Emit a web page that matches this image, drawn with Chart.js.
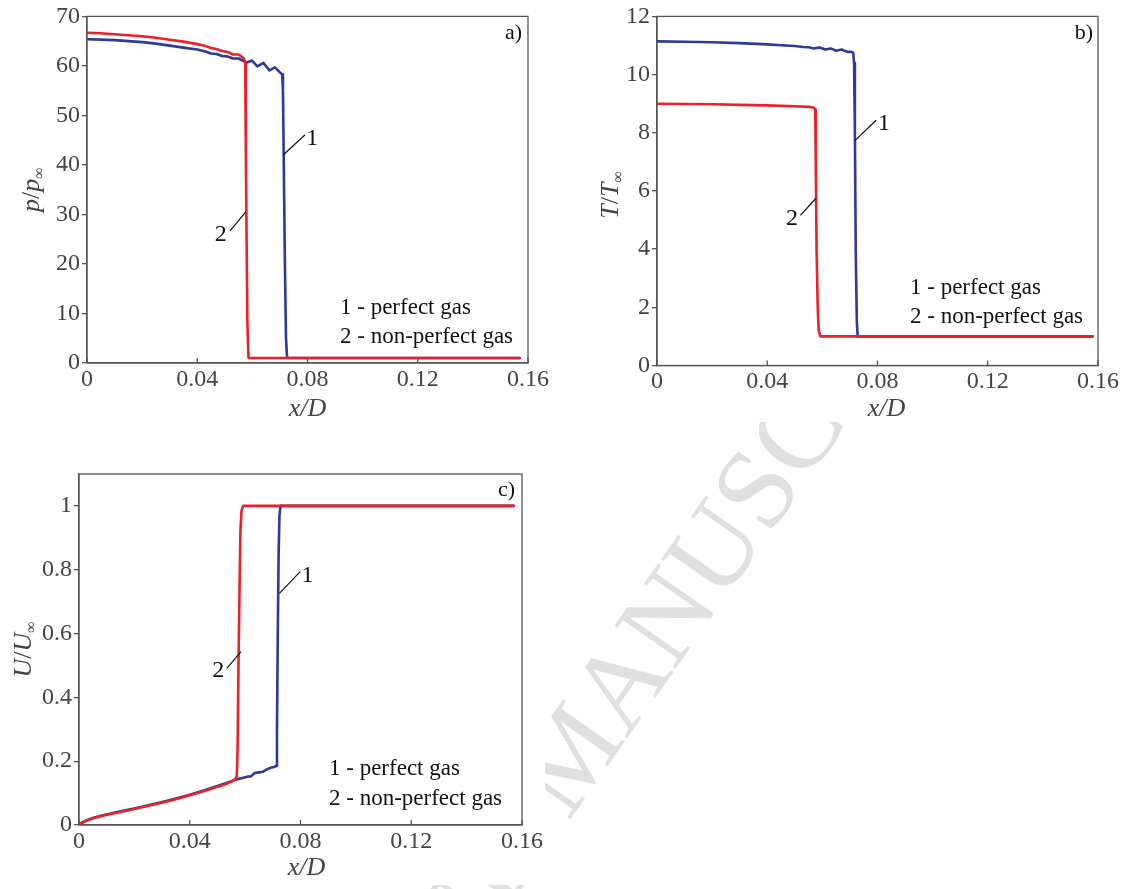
<!DOCTYPE html>
<html>
<head>
<meta charset="utf-8">
<script src="https://cdn.jsdelivr.net/npm/chart.js@4.4.0/dist/chart.umd.min.js"></script>
<style>
  html, body { margin: 0; padding: 0; background: #fff; }
  body { width: 1137px; height: 889px; position: relative; overflow: hidden; }
  canvas { position: absolute; background: #fff; }
  #marca {
    position: absolute; left: 571px; top: 752px;
    transform: translate(-50%, -50%) rotate(-55deg);
    white-space: nowrap; line-height: 1;
    font: 114px "Liberation Serif", serif; color: #e0e0e0;
  }
</style>
</head>
<body>
<div id="marca">ACCEPTED MANUSCRIPT</div>
<canvas id="chartA" width="560" height="425" style="left:0;top:0"></canvas>
<canvas id="chartB" width="577" height="422" style="left:560px;top:0"></canvas>
<canvas id="chartC" width="545" height="430" style="left:0;top:455px"></canvas>
<script>
// ejes
const xTicks = [0, 0.04, 0.08, 0.12, 0.16];
const xTickLabels = ['0', '0.04', '0.08', '0.12', '0.16'];
const pTicks = [0, 10, 20, 30, 40, 50, 60, 70];
const pTickLabels = ['0', '10', '20', '30', '40', '50', '60', '70'];
const tTicks = [0, 2, 4, 6, 8, 10, 12];
const tTickLabels = ['0', '2', '4', '6', '8', '10', '12'];
const uTicks = [0, 0.2, 0.4, 0.6, 0.8, 1];
const uTickLabels = ['0', '0.2', '0.4', '0.6', '0.8', '1'];
const seriesNames = ['1 - perfect gas', '2 - non-perfect gas'];

// a) presion, gas perfecto (1)
const pPerfectX = [0, 0.005, 0.01, 0.015, 0.02, 0.025, 0.03, 0.035, 0.04, 0.043, 0.045, 0.047, 0.049, 0.051, 0.053, 0.055, 0.057, 0.058, 0.0598, 0.0618, 0.064, 0.0662, 0.0682, 0.07, 0.0708, 0.0711, 0.0714, 0.0718, 0.0722, 0.0726, 0.075, 0.1, 0.13, 0.157];
const pPerfectY = [65.4, 65.3, 65.2, 65.0, 64.8, 64.5, 64.1, 63.7, 63.3, 62.9, 62.5, 62.4, 62.0, 61.9, 61.5, 61.5, 60.9, 60.7, 61.1, 59.9, 60.6, 59.1, 59.7, 58.7, 58.3, 55, 40, 20, 5, 1, 1, 1, 1, 1];
// a) presion, gas no perfecto (2)
const pRealX = [0, 0.005, 0.01, 0.015, 0.02, 0.025, 0.03, 0.035, 0.04, 0.043, 0.045, 0.047, 0.049, 0.051, 0.053, 0.055, 0.0568, 0.0574, 0.0576, 0.0579, 0.0582, 0.0586, 0.065, 0.1, 0.13, 0.157];
const pRealY = [66.7, 66.6, 66.4, 66.2, 66.0, 65.7, 65.3, 64.9, 64.4, 64.0, 63.6, 63.4, 63.0, 62.8, 62.3, 62.3, 61.6, 60.8, 45, 25, 8, 1, 1, 1, 1, 1];

// b) temperatura
const tPerfectX = [0, 0.01, 0.02, 0.03, 0.04, 0.045, 0.05, 0.053, 0.055, 0.057, 0.059, 0.061, 0.063, 0.065, 0.067, 0.069, 0.0705, 0.0712, 0.0715, 0.0718, 0.0721, 0.0725, 0.0728, 0.08, 0.12, 0.158];
const tPerfectY = [11.14, 11.13, 11.11, 11.08, 11.04, 11.01, 10.98, 10.95, 10.94, 10.9, 10.93, 10.86, 10.9, 10.82, 10.86, 10.78, 10.78, 10.75, 10.4, 8, 4, 1.5, 1, 1, 1, 1];
const tRealX = [0, 0.01, 0.02, 0.03, 0.04, 0.05, 0.055, 0.0568, 0.0574, 0.0576, 0.0579, 0.0583, 0.0587, 0.0593, 0.065, 0.1, 0.13, 0.158];
const tRealY = [9.0, 8.99, 8.98, 8.96, 8.94, 8.91, 8.89, 8.87, 8.8, 7.0, 4.0, 2.0, 1.2, 1.0, 1, 1, 1, 1];

// c) velocidad
const uPerfectX = [0, 0.001, 0.0025, 0.005, 0.0075, 0.01, 0.015, 0.02, 0.025, 0.03, 0.035, 0.04, 0.045, 0.05, 0.054, 0.057, 0.059, 0.061, 0.062, 0.0635, 0.065, 0.0665, 0.068, 0.0695, 0.0705, 0.0712, 0.0715, 0.0718, 0.0721, 0.0724, 0.0728, 0.08, 0.12, 0.157];
const uPerfectY = [0, 0.007, 0.014, 0.022, 0.028, 0.033, 0.043, 0.052, 0.062, 0.072, 0.083, 0.095, 0.108, 0.122, 0.134, 0.143, 0.147, 0.152, 0.152, 0.163, 0.165, 0.167, 0.175, 0.18, 0.182, 0.185, 0.3, 0.6, 0.85, 0.97, 1.0, 1, 1, 1];
const uRealX = [0, 0.001, 0.0025, 0.005, 0.0075, 0.01, 0.015, 0.02, 0.025, 0.03, 0.035, 0.04, 0.045, 0.05, 0.053, 0.0555, 0.0565, 0.057, 0.0573, 0.0576, 0.058, 0.0583, 0.0587, 0.0593, 0.08, 0.12, 0.157];
const uRealY = [0, 0.006, 0.013, 0.021, 0.027, 0.032, 0.041, 0.05, 0.06, 0.07, 0.081, 0.093, 0.106, 0.12, 0.128, 0.138, 0.145, 0.152, 0.25, 0.5, 0.75, 0.92, 0.985, 1.0, 1, 1, 1];

const SERIF = '"Liberation Serif", "DejaVu Serif", serif';
const BLUE = '#2D3A96';
const RED = '#EC2028';
const AXIS = '#555';

function toPoints(xs, ys) {
  return xs.map((x, i) => ({ x: x, y: ys[i] }));
}

// texto con cursiva y subindice
function drawRich(ctx, parts, cx, cy, size, vertical) {
  ctx.save();
  ctx.translate(cx, cy);
  if (vertical) ctx.rotate(-Math.PI / 2);
  const fontFor = p => (p.i ? 'italic ' : '') + Math.round(p.sub ? size * 0.62 : size) + 'px ' + SERIF;
  let total = 0;
  parts.forEach(p => { ctx.font = fontFor(p); total += ctx.measureText(p.t).width; });
  let x = -total / 2;
  ctx.textAlign = 'left';
  ctx.textBaseline = 'middle';
  ctx.fillStyle = '#444';
  parts.forEach(p => {
    ctx.font = fontFor(p);
    ctx.fillText(p.t, x, p.sub ? size * 0.3 : 0);
    x += ctx.measureText(p.t).width;
  });
  ctx.restore();
}

const decoPlugin = {
  id: 'deco',
  afterDraw(chart, args, o) {
    const ctx = chart.ctx;
    const a = chart.chartArea;
    const xs = chart.scales.x, ys = chart.scales.y;
    ctx.save();
    // marco
    ctx.strokeStyle = AXIS;
    ctx.lineWidth = 1.3;
    ctx.strokeRect(a.left, a.top, a.right - a.left, a.bottom - a.top);
    // ticks hacia dentro en x
    xTicks.forEach(v => {
      const px = xs.getPixelForValue(v);
      ctx.beginPath(); ctx.moveTo(px, a.bottom); ctx.lineTo(px, a.bottom - 5); ctx.stroke();
    });
    // rotulos 1 y 2
    ctx.strokeStyle = '#111';
    ctx.lineWidth = 1.2;
    ctx.fillStyle = '#111';
    ctx.font = '24px ' + SERIF;
    ctx.textAlign = 'center';
    ctx.textBaseline = 'middle';
    o.leaders.forEach(l => {
      ctx.beginPath();
      ctx.moveTo(xs.getPixelForValue(l.from[0]), ys.getPixelForValue(l.from[1]));
      ctx.lineTo(xs.getPixelForValue(l.to[0]), ys.getPixelForValue(l.to[1]));
      ctx.stroke();
      ctx.fillText(l.text, xs.getPixelForValue(l.at[0]), ys.getPixelForValue(l.at[1]));
    });
    // leyenda
    ctx.textAlign = 'left';
    ctx.font = '23px ' + SERIF;
    seriesNames.forEach((s, i) => {
      ctx.fillText(s, a.left + o.legend.dx, a.bottom + o.legend.dy[i]);
    });
    // etiqueta del panel
    ctx.textAlign = 'right';
    ctx.font = '22px ' + SERIF;
    ctx.fillText(o.panel, a.right + o.panelPos[0], a.top + o.panelPos[1]);
    ctx.restore();
    // titulos de ejes
    const midX = (a.left + a.right) / 2, midY = (a.top + a.bottom) / 2;
    drawRich(ctx, [{ t: 'x', i: 1 }, { t: '/', i: 1 }, { t: 'D', i: 1 }], midX + o.xTitle[0], a.bottom + o.xTitle[1], 26, false);
    drawRich(ctx, o.yTitleParts, a.left + o.yTitle[0], midY + o.yTitle[1], 26, true);
  }
};

function makeChart(id, cfg) {
  const tickFont = { family: SERIF, size: 24 };
  new Chart(document.getElementById(id), {
    type: 'line',
    data: {
      datasets: [
        { label: seriesNames[1], data: cfg.red, borderColor: RED, borderWidth: 2.6, pointRadius: 0, tension: 0, order: 1, borderJoinStyle: 'round', borderCapStyle: 'round' },
        { label: seriesNames[0], data: cfg.blue, borderColor: BLUE, borderWidth: 2.6, pointRadius: 0, tension: 0, order: 2, borderJoinStyle: 'round', borderCapStyle: 'round' }
      ]
    },
    options: {
      responsive: false,
      animation: false,
      layout: { padding: cfg.padding },
      plugins: { legend: { display: false }, tooltip: { enabled: false }, deco: cfg.deco },
      scales: {
        x: {
          type: 'linear', min: 0, max: 0.16,
          afterBuildTicks: s => { s.ticks = xTicks.map(v => ({ value: v })); },
          afterFit: s => { s.height = cfg.xHeight; },
          ticks: { color: '#444', font: tickFont, padding: 2, maxRotation: 0, autoSkip: false, callback: (v, i) => xTickLabels[i] },
          grid: { display: true, drawOnChartArea: false, drawTicks: false },
          border: { color: AXIS, width: 1.3 }
        },
        y: {
          type: 'linear', min: cfg.yMin, max: cfg.yMax,
          afterBuildTicks: s => { s.ticks = cfg.yTicks.map(v => ({ value: v })); },
          afterFit: s => { s.width = cfg.yWidth; },
          ticks: { color: '#444', font: tickFont, padding: 2, autoSkip: false, callback: (v, i) => cfg.yLabels[i] },
          grid: { drawOnChartArea: false, drawTicks: true, tickLength: 5, color: AXIS, lineWidth: 1.3 },
          border: { color: AXIS, width: 1.3 }
        }
      }
    },
    plugins: [decoPlugin]
  });
}

makeChart('chartA', {
  blue: toPoints(pPerfectX, pPerfectY),
  red: toPoints(pRealX, pRealY),
  yMin: 0, yMax: 70, yTicks: pTicks, yLabels: pTickLabels,
  padding: { left: 0, top: 13, right: 32, bottom: 0 },
  yWidth: 87, xHeight: 62,
  deco: {
    leaders: [
      { text: '1', from: [0.0712, 42], to: [0.0791, 46.1], at: [0.0817, 45.4] },
      { text: '2', from: [0.0519, 26.7], to: [0.0576, 30.5], at: [0.0485, 26.0] }
    ],
    legend: { dx: 253, dy: [-55, -26] },
    panel: 'a)', panelPos: [-6, 17],
    xTitle: [0, 46], yTitle: [-55, 0],
    yTitleParts: [{ t: 'p', i: 1 }, { t: '/' }, { t: 'p', i: 1 }, { t: '\u221E', sub: 1 }]
  }
});

makeChart('chartB', {
  blue: toPoints(tPerfectX, tPerfectY),
  red: toPoints(tRealX, tRealY),
  yMin: 0, yMax: 12, yTicks: tTicks, yLabels: tTickLabels,
  padding: { left: 0, top: 16, right: 39, bottom: 0 },
  yWidth: 97, xHeight: 56.5,
  deco: {
    leaders: [
      { text: '1', from: [0.0719, 7.74], to: [0.0795, 8.43], at: [0.0824, 8.3] },
      { text: '2', from: [0.052, 5.16], to: [0.0577, 5.75], at: [0.049, 5.05] }
    ],
    legend: { dx: 253, dy: [-77.5, -49] },
    panel: 'b)', panelPos: [-5, 17],
    xTitle: [9, 44], yTitle: [-46, 4],
    yTitleParts: [{ t: 'T', i: 1 }, { t: '/' }, { t: 'T', i: 1 }, { t: '\u221E', sub: 1 }]
  }
});

makeChart('chartC', {
  blue: toPoints(uPerfectX, uPerfectY),
  red: toPoints(uRealX, uRealY),
  yMin: 0, yMax: 1.1, yTicks: uTicks, yLabels: uTickLabels,
  padding: { left: 0, top: 19, right: 23, bottom: 0 },
  yWidth: 79, xHeight: 60,
  deco: {
    leaders: [
      { text: '1', from: [0.0724, 0.726], to: [0.0799, 0.794], at: [0.0825, 0.78] },
      { text: '2', from: [0.0534, 0.491], to: [0.0585, 0.543], at: [0.0503, 0.482] }
    ],
    legend: { dx: 250, dy: [-56, -26] },
    panel: 'c)', panelPos: [-7, 16],
    xTitle: [6, 43], yTitle: [-55, 0],
    yTitleParts: [{ t: 'U', i: 1 }, { t: '/' }, { t: 'U', i: 1 }, { t: '\u221E', sub: 1 }]
  }
});
</script>
</body>
</html>
